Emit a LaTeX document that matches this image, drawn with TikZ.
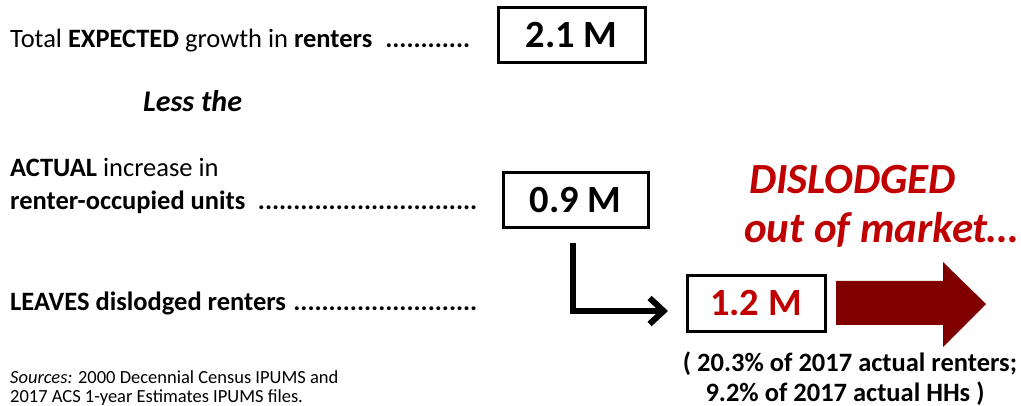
\documentclass[tikz,border=0pt]{standalone}
\usepackage{fontspec}
\setmainfont{Carlito}
\usetikzlibrary{arrows.meta}
\definecolor{txtred}{HTML}{C00000}
\definecolor{arrred}{HTML}{800000}
\newcommand{\ldr}{\leaders\hbox{\bfseries .}\hfill}
\newcommand{\fs}[1]{\fontsize{#1}{#1}\selectfont}
\begin{document}
\begin{tikzpicture}[x=1pt,y=-1pt,
  valbox/.style={draw=black,line width=3pt,minimum width=147pt,minimum height=55pt,inner sep=0pt,font=\fs{38.5}\bfseries},
  lbl/.style={anchor=base west,inner sep=0pt,font=\fs{26.5}},
  src/.style={anchor=base west,inner sep=0pt,font=\fs{18.5}}]
\useasboundingbox (0,0) rectangle (1021,406);
% left labels
\node[lbl] (l1) at (10,48) {\makebox[463pt][l]{Total \textbf{EXPECTED} growth in \textbf{renters} \ldr}};
\node[anchor=base west,inner sep=0pt,font=\fs{30}\bfseries\itshape] (less) at (143,111.5) {Less the};
\node[lbl] (l2a) at (10,177) {\textbf{ACTUAL} increase in};
\node[lbl] (l2b) at (10,210) {\makebox[468pt][l]{\textbf{renter-occupied units} \ldr}};
\node[lbl] (l3) at (10,310.5) {\makebox[470pt][l]{\textbf{LEAVES dislodged renters} \ldr}};
% value boxes
\node[valbox] (b21) at (571.5,35.5) {2.1 M};
\node[valbox,minimum width=145pt] (b09) at (575.5,200.5) {0.9 M};
\node[valbox,minimum width=138pt,minimum height=56pt,text=txtred] (b12) at (756,303.5) {1.2 M};
% elbow arrow
\coordinate (e0) at (573,243);
\coordinate (e1) at (668,311);
\draw[line width=6pt,-{Straight Barb[length=14pt,width=26pt,line width=6pt]}] (e0) |- (e1);
% big arrow
\fill[arrred] (836,281) -- (943,281) -- (943,262) -- (986,304) -- (943,347) -- (943,325) -- (836,325) -- cycle;
% dislodged
\node[anchor=base west,inner sep=0pt,text=txtred,font=\fs{43}\bfseries\itshape] (d1) at (749,194) {DISLODGED};
\node[anchor=base west,inner sep=0pt,text=txtred,font=\fs{43}\bfseries\itshape] (d2) at (744,243) {out of market…};
% percentages
\node[anchor=base,inner sep=0pt,font=\fs{26.5}\bfseries] (p1) at (850,371) {( 20.3\% of 2017 actual renters;};
\node[anchor=base,inner sep=0pt,font=\fs{26.5}\bfseries] (p2) at (845,401) {9.2\% of 2017 actual HHs )};
% sources
\node[src] (s1) at (10,383) {\textit{Sources:} 2000 Decennial Census IPUMS and};
\node[src] (s2) at (10,402) {2017 ACS 1-year Estimates IPUMS files.};
\end{tikzpicture}
\end{document}
